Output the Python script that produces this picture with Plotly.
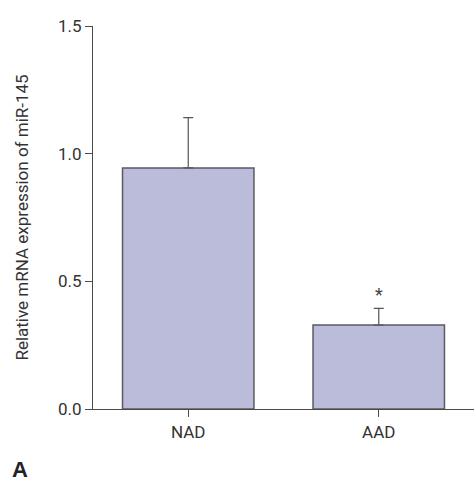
import plotly.graph_objects as go

categories = ["NAD", "AAD"]
values = [0.944, 0.329]
errors = [0.197, 0.065]
sig_labels = ["", "*"]
y_ticks = [0.0, 0.5, 1.0, 1.5]
y_ticktext = ["0.0", "0.5", "1.0", "1.5"]

FONT = "Roboto, Liberation Sans, sans-serif"
AX = "#4a4a4a"

fig = go.Figure()
fig.add_trace(go.Bar(
    x=categories, y=values, width=0.69,
    marker=dict(color="#bbbbda", line=dict(color="#5a5a66", width=1.5)),
    error_y=dict(type="data", array=errors, symmetric=False, arrayminus=[0, 0],
                 color="#555555", thickness=1.2, width=5),
))
for c, v, e, s in zip(categories, values, errors, sig_labels):
    if s:
        fig.add_annotation(x=c, y=v + e, text=s, showarrow=False, yshift=14,
                           font=dict(family=FONT, size=18, color="#444"))

fig.add_annotation(xref="paper", yref="paper", x=-0.218, y=-0.12, xanchor="left", yanchor="top",
                   text="<b>A</b>", showarrow=False,
                   font=dict(family="Liberation Sans, Arial, sans-serif", size=22, color="#222"))

fig.update_layout(
    width=474, height=482,
    margin=dict(l=93, r=0, t=26, b=73),
    plot_bgcolor="white", paper_bgcolor="white",
    showlegend=False,
    font=dict(family=FONT, size=17, color="#333"),
    xaxis=dict(range=[-0.5, 1.5], showline=True, linecolor=AX, linewidth=1.2,
               ticks="outside", ticklen=7, tickcolor=AX, tickwidth=1.2,
               tickfont=dict(family=FONT, size=17, color="#333"), showgrid=False),
    yaxis=dict(range=[0, 1.5], showline=True, linecolor=AX, linewidth=1.2,
               ticks="outside", ticklen=7, tickcolor=AX, tickwidth=1.2,
               tickvals=y_ticks, ticktext=y_ticktext, showgrid=False, zeroline=False,
               tickfont=dict(family=FONT, size=17, color="#333"),
               title=dict(text="Relative mRNA expression of miR-145", standoff=24,
                          font=dict(family=FONT, size=17, color="#333"))),
)
fig.write_html("out.html", config={"displayModeBar": False},
               post_script="document.body.style.margin='0';document.body.style.overflow='hidden';")
